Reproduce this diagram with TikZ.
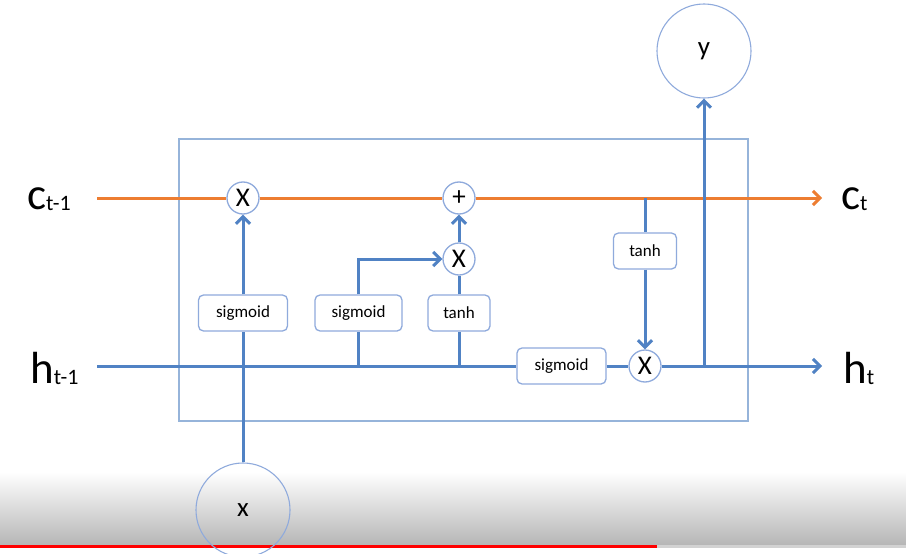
\documentclass[tikz,border=0pt]{standalone}
\usepackage{fontspec}
\setmainfont{Carlito}
\usetikzlibrary{arrows.meta}
\definecolor{lblue}{RGB}{80,130,196}
\definecolor{bord}{RGB}{143,170,220}
\definecolor{outerc}{RGB}{150,180,218}
\definecolor{orng}{RGB}{237,125,49}
\definecolor{barbg}{RGB}{182,182,182}
\begin{document}
\begin{tikzpicture}[x=1pt,y=-1pt,
  fn/.style={draw=bord, line width=1.3pt, rounded corners=5pt, fill=white, minimum height=36pt, font=\fontsize{17}{17}\selectfont, inner sep=0pt},
  op/.style={circle, draw=bord, line width=1.3pt, fill=white, minimum size=32pt, inner sep=0pt, font=\fontsize{27}{27}\selectfont},
  io/.style={circle, draw=bord, line width=1.1pt, minimum size=94pt, inner sep=0pt, font=\fontsize{27}{27}\selectfont},
  bl/.style={draw=lblue, line width=3pt},
  orline/.style={draw=orng, line width=3pt},
  arr/.style={-{Straight Barb[length=7pt,width=14pt]}},
  lbl/.style={anchor=base west, inner sep=0pt},
]
\path[use as bounding box, fill=white] (0,0) rectangle (906,554);
% video overlay
\shade[top color=white, bottom color=barbg] (0,472) rectangle (906,545);
\fill[red] (0,545) rectangle (657,548);
\fill[gray!35] (657,545) rectangle (906,548);

% cell box
\node[draw=outerc, line width=1.3pt, minimum width=569pt, minimum height=282pt, inner sep=0pt] (cell) at (463.5,280) {};

% end points
\coordinate (cin) at (97,198);
\coordinate (cout) at (822,198);
\coordinate (hin) at (97,366);
\coordinate (hout) at (822,366);

% nodes
\node[op] (X1) at (243,198) {X};
\node[op] (plus) at (459,198) {+};
\node[op] (X2) at (459,259) {X};
\node[op] (X3) at (645,366) {X};
\node[fn, minimum width=89pt] (sg1) at (243,313) {sigmoid};
\node[fn, minimum width=87pt] (sg2) at (358.5,313) {sigmoid};
\node[fn, minimum width=62pt] (th1) at (459,313) {tanh};
\node[fn, minimum width=89pt] (sg3) at (561.5,366) {sigmoid};
\node[fn, minimum width=63pt] (th2) at (645,251) {tanh};
\node[io] (yout) at (704,51) {y};
\node[io] (xin) at (243,510) {x};

% labels
\node[lbl] (lc1) at (27,209) {\fontsize{45}{45}\selectfont c\raisebox{-1pt}{\fontsize{22}{22}\selectfont t-1}};
\node[lbl] (lh1) at (30,383) {\fontsize{45}{45}\selectfont h\raisebox{-1pt}{\fontsize{22}{22}\selectfont t-1}};
\node[lbl] (lc) at (841,209) {\fontsize{45}{45}\selectfont c\raisebox{-1pt}{\fontsize{22}{22}\selectfont t}};
\node[lbl] (lh) at (843,383) {\fontsize{45}{45}\selectfont h\raisebox{-1pt}{\fontsize{22}{22}\selectfont t}};

% cell state line
\draw[orline] (cin) -- (X1);
\draw[orline] (X1) -- (plus);
\draw[orline, arr] (plus) -- (cout);

% hidden line
\draw[bl] (hin) -- (sg3.west);
\draw[bl] (sg3.east) -- (X3.west);
\draw[bl, arr] (X3.east) -- (hout);

% forget gate
\draw[bl] (xin.north) -- (sg1.south);
\draw[bl, arr] (sg1) -- (X1);

% input gate
\draw[bl] (sg2.south |- hin) -- (sg2.south);
\draw[bl, arr] (sg2.north) |- (X2.west);
\draw[bl] (th1.south |- hin) -- (th1.south);
\draw[bl] (th1) -- (X2);
\draw[bl, arr] (X2) -- (plus);

% output
\draw[bl] (th2.north |- cin) -- (th2.north);
\draw[bl, arr] (th2) -- (X3);
\draw[bl, arr] (yout.south |- hin) -- (yout.south);
\end{tikzpicture}
\end{document}
